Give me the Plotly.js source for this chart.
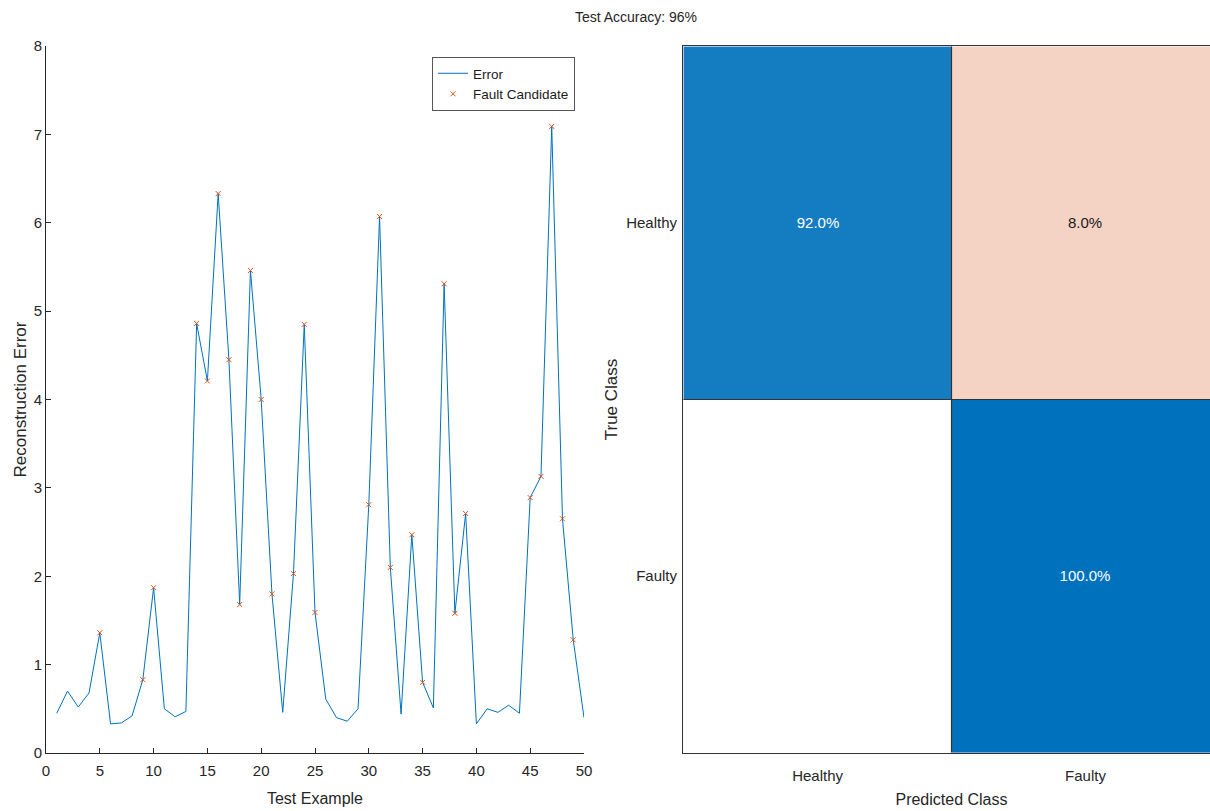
<!DOCTYPE html>
<html>
<head>
<meta charset="utf-8">
<script src="https://cdn.plot.ly/plotly-3.0.1.min.js"></script>
<style>html,body{margin:0;padding:0;overflow:hidden;background:#fff;}#plot{width:1220px;height:811px;}</style>
</head>
<body>
<div id="plot"></div>
<script>
// Reconstruction error per test example
const testExample = [1,2,3,4,5,6,7,8,9,10,11,12,13,14,15,16,17,18,19,20,21,22,23,24,25,26,27,28,29,30,31,32,33,34,35,36,37,38,39,40,41,42,43,44,45,46,47,48,49,50];
const reconError = [0.45,0.70,0.52,0.68,1.36,0.33,0.34,0.42,0.83,1.87,0.50,0.41,0.47,4.86,4.21,6.33,4.45,1.68,5.46,4.00,1.80,0.46,2.03,4.85,1.59,0.61,0.40,0.36,0.50,2.81,6.07,2.10,0.44,2.47,0.80,0.51,5.31,1.58,2.71,0.33,0.50,0.46,0.54,0.45,2.89,3.13,7.09,2.65,1.28,0.40];
// Fault candidates (subset of test examples)
const faultIdx = [5,9,10,14,15,16,17,18,19,20,21,23,24,25,30,31,32,34,35,37,38,39,45,46,47,48,49];
const faultErr = faultIdx.map(i => reconError[i-1]);

// Confusion matrix (row-normalized, %)
const classes = ['Healthy','Faulty'];
const confPct = [[92.0, 8.0],[0.0, 100.0]];
const accuracyText = 'Test Accuracy: 96%';

const diagZ = confPct.map((row,i)=>row.map((v,j)=> i===j ? v : null));
const offZ = confPct.map((row,i)=>row.map((v,j)=> i!==j ? v : null));
const fmt = z => z.map(row=>row.map(v=> (v===null || v===0) ? '' : v.toFixed(1)+'%'));

const FONT = '"Liberation Sans", Arial, sans-serif';
const AX = '#262626';

const traces = [
  {x: testExample, y: reconError, type:'scatter', mode:'lines', name:'Error',
   line:{color:'#0072BD', width:1}, xaxis:'x', yaxis:'y'},
  {x: faultIdx, y: faultErr, type:'scatter', mode:'markers', name:'Fault Candidate',
   marker:{symbol:'x-thin-open', size:5, color:'#D95319', line:{color:'#D95319', width:1}}, xaxis:'x', yaxis:'y'},
  {type:'heatmap', x: classes, y: classes, z: diagZ, text: fmt(diagZ), texttemplate:'%{text}',
   textfont:{color:'#ffffff', size:15, family:FONT},
   colorscale:[[0,'#ffffff'],[1,'#0072BD']], zmin:0, zmax:100, showscale:false, hoverongaps:false,
   xaxis:'x2', yaxis:'y2'},
  {type:'heatmap', x: classes, y: classes, z: offZ, text: fmt(offZ), texttemplate:'%{text}',
   textfont:{color:'#1a1a1a', size:15, family:FONT},
   colorscale:[[0,'#ffffff'],[1,'#F5D3C4']], zmin:0, zmax:8, showscale:false, hoverongaps:false,
   xaxis:'x2', yaxis:'y2'}
];

const shapes = [];
for (let k=1; k<classes.length; k++) {
  shapes.push({type:'line', xref:'x2', yref:'y2', x0:k-0.5, x1:k-0.5, y0:-0.5, y1:classes.length-0.5, line:{color:'#333', width:1.2}});
  shapes.push({type:'line', xref:'x2', yref:'y2', y0:k-0.5, y1:k-0.5, x0:-0.5, x1:classes.length-0.5, line:{color:'#333', width:1.2}});
}

const layout = {
  width:1220, height:811,
  margin:{l:46, r:0, t:46, b:58},
  paper_bgcolor:'#fff', plot_bgcolor:'#fff',
  font:{family:FONT, color:AX, size:15},
  title:{text:accuracyText, font:{size:14, color:AX, family:FONT}, xref:'container', x:636/1220, xanchor:'center', y:1-17/811, yanchor:'middle'},
  showlegend:true,
  legend:{x:(575-46)/1174, xanchor:'right', y:1+(46-57)/707, yanchor:'top', bgcolor:'#fff', bordercolor:'#555', borderwidth:1,
          font:{size:13.5, color:'#1a1a1a', family:FONT}, tracegroupgap:0, itemwidth:30},
  xaxis:{domain:[0, 538/1174], range:[0,50], dtick:5, tick0:0, showgrid:false, zeroline:false,
         showline:true, linecolor:AX, linewidth:1, ticks:'inside', ticklen:5, tickcolor:AX,
         ticklabelstandoff:4,
         tickfont:{size:15}, title:{text:'Test Example', font:{size:16}, standoff:14}},
  yaxis:{range:[0,8], dtick:1, tick0:0, showgrid:false, zeroline:false,
         showline:true, linecolor:AX, linewidth:1, ticks:'inside', ticklen:5, tickcolor:AX,
         tickfont:{size:15}, title:{text:'Reconstruction Error', font:{size:17}, standoff:2}},
  xaxis2:{domain:[637/1174, 1], anchor:'y2', type:'category', showgrid:false, zeroline:false,
          showline:true, mirror:true, linecolor:'#333', linewidth:1, ticks:'', tickfont:{size:15},
          ticklabelstandoff:9,
          title:{text:'Predicted Class', font:{size:16}, standoff:10}},
  yaxis2:{anchor:'x2', type:'category', autorange:'reversed', showgrid:false, zeroline:false,
          showline:true, mirror:true, linecolor:'#333', linewidth:1, ticks:'', tickfont:{size:15},
          ticklabelstandoff:2,
          title:{text:'True Class', font:{size:17}, standoff:4}},
  shapes: shapes
};

Plotly.newPlot('plot', traces, layout, {staticPlot:true, displayModeBar:false});
</script>
</body>
</html>
